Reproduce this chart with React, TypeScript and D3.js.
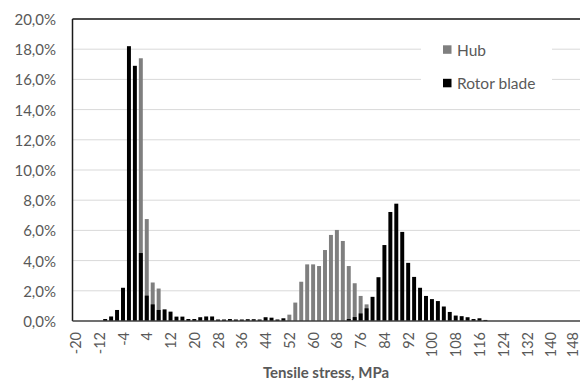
import React from "react";
import * as d3 from "d3";

// Stress classes (MPa), one bar slot per class
const categories: number[] = [
  -20, -18, -16, -14, -12, -10, -8, -6, -4, -2, 0, 2, 4, 6, 8, 10, 12, 14, 16, 18,
  20, 22, 24, 26, 28, 30, 32, 34, 36, 38, 40, 42, 44, 46, 48, 50, 52, 54, 56, 58,
  60, 62, 64, 66, 68, 70, 72, 74, 76, 78, 80, 82, 84, 86, 88, 90, 92, 94, 96, 98,
  100, 102, 104, 106, 108, 110, 112, 114, 116, 118, 120, 122, 124, 126, 128, 130,
  132, 134, 136, 138, 140, 142, 144, 146, 148,
];

// Relative frequency (%) per class
const hub: number[] = [
  0, 0, 0, 0, 0, 0, 0, 0, 0, 0, 0, 17.4, 6.75, 2.55, 2.15, 0, 0, 0, 0, 0,
  0, 0, 0, 0, 0, 0, 0, 0, 0, 0, 0, 0, 0, 0, 0, 0, 0.42, 1.22, 2.6, 3.75,
  3.75, 3.64, 4.7, 5.7, 6.03, 5.3, 3.64, 2.5, 1.66, 1.1, 0, 0, 0, 0, 0, 0, 0, 0, 0, 0,
  0, 0, 0, 0, 0, 0, 0, 0, 0, 0, 0, 0, 0, 0, 0, 0,
  0, 0, 0, 0, 0, 0, 0, 0, 0,
];

const rotorBlade: number[] = [
  0, 0, 0, 0, 0, 0.13, 0.3, 0.73, 2.2, 18.2, 16.9, 4.5, 1.68, 1.1, 0.73, 0.77, 0.62, 0.29, 0.29, 0.13,
  0.13, 0.25, 0.3, 0.3, 0.1, 0.1, 0.13, 0.1, 0.1, 0.12, 0.12, 0.1, 0.25, 0.22, 0.1, 0.18, 0, 0, 0, 0,
  0, 0, 0, 0, 0, 0, 0.13, 0.26, 0.5, 0.84, 1.6, 2.9, 5.03, 7.22, 7.77, 5.9, 3.85, 2.92, 2.2, 1.66,
  1.45, 1.32, 0.96, 0.6, 0.36, 0.32, 0.25, 0.13, 0.18, 0.07, 0, 0, 0, 0, 0, 0,
  0, 0, 0, 0, 0, 0, 0, 0, 0,
];

const xTickLabels: number[] = [
  -20, -12, -4, 4, 12, 20, 28, 36, 44, 52, 60, 68, 76, 84, 92, 100, 108, 116, 124, 132, 140, 148,
];
const yTicks: number[] = [0, 2, 4, 6, 8, 10, 12, 14, 16, 18, 20];

const seriesNames = ["Hub", "Rotor blade"];
const seriesColors = ["#7f7f7f", "#000000"];

const W = 580;
const H = 381;
const plot = { left: 72.5, right: 577.5, top: 19, bottom: 321 };
const FONT = "Lato, 'Open Sans', sans-serif";
const TEXT = "#595959";

export default function App() {
  const x = d3
    .scaleBand<number>()
    .domain(categories)
    .range([plot.left, plot.right])
    .paddingInner(1 / 3)
    .paddingOuter(1 / 6);
  const y = d3.scaleLinear().domain([0, 20]).range([plot.bottom, plot.top]);
  const bw = x.bandwidth();
  const fmt = (v: number) => v.toFixed(1).replace(".", ",") + "%";

  const series = [hub, rotorBlade];

  return (
    <svg
      width={W}
      height={H}
      style={{ position: "absolute", left: 0, top: 0, background: "#fff" }}
      fontFamily={FONT}
    >
      <rect x={0} y={0} width={W} height={H} fill="#fff" />
      {/* gridlines */}
      {yTicks
        .filter((t) => t > 0)
        .map((t) => (
          <line
            key={"g" + t}
            x1={plot.left}
            x2={W}
            y1={y(t)}
            y2={y(t)}
            stroke="#d9d9d9"
            strokeWidth={1}
          />
        ))}
      {/* bars: hub behind, rotor blade in front */}
      {series.map((vals, si) => (
        <g key={"s" + si} fill={seriesColors[si]}>
          {categories.map((c, i) =>
            vals[i] > 0 ? (
              <rect
                key={c}
                x={x(c)!}
                y={y(vals[i])}
                width={bw}
                height={y(0) - y(vals[i])}
              />
            ) : null
          )}
        </g>
      ))}
      {/* plot frame and axis */}
      <line x1={plot.left} x2={W} y1={plot.top} y2={plot.top} stroke="#1a1a1a" strokeWidth={1.5} />
      <line x1={plot.left} x2={plot.left} y1={plot.top} y2={plot.bottom} stroke="#1a1a1a" strokeWidth={1.5} />
      <line x1={plot.left} x2={W} y1={plot.bottom} y2={plot.bottom} stroke="#404040" strokeWidth={1.5} />
      {/* y tick labels */}
      {yTicks.map((t) => (
        <text
          key={"y" + t}
          x={56}
          y={y(t)}
          textAnchor="end"
          dominantBaseline="central"
          fontSize={15}
          fill={TEXT}
        >
          {fmt(t)}
        </text>
      ))}
      {/* x tick labels */}
      {xTickLabels.map((v) => {
        const cx = Math.min(x(v)! + bw / 2, 572);
        return (
          <text
            key={"x" + v}
            transform={`translate(${cx},${332}) rotate(-90)`}
            textAnchor="end"
            dominantBaseline="central"
            fontSize={14.5}
            fill={TEXT}
          >
            {v}
          </text>
        );
      })}
      <text
        x={326}
        y={372}
        textAnchor="middle"
        dominantBaseline="central"
        fontSize={15}
        fontWeight="bold"
        fill={TEXT}
      >
        Tensile stress, MPa
      </text>
      {/* legend */}
      <rect x={421} y={32} width={131} height={68} fill="#fff" />
      {seriesNames.map((name, i) => {
        const cy = i === 0 ? 49.5 : 83;
        return (
          <g key={name}>
            <rect x={443} y={cy - 4.2} width={8.5} height={8.5} fill={seriesColors[i]} />
            <text x={457} y={cy} dominantBaseline="central" fontSize={15.5} fill={TEXT}>
              {name}
            </text>
          </g>
        );
      })}
    </svg>
  );
}
